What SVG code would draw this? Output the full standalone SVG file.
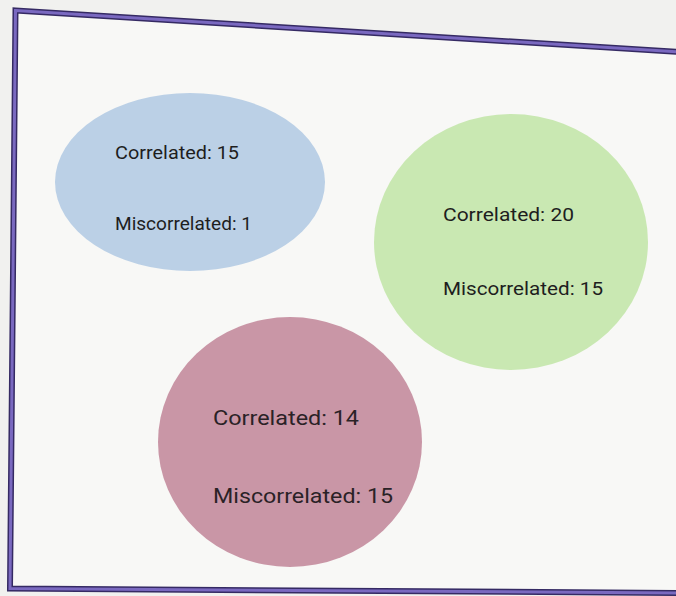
<svg xmlns="http://www.w3.org/2000/svg" width="676" height="596" viewBox="0 0 676 596">
<style>
.lbl{font-family:Roboto,"Liberation Sans",sans-serif;font-size:19px;fill:#1e1e1e}
.big{font-size:21px;fill:#2a2226}
.frame-o{fill:none;stroke:#352a63;stroke-width:6}
.frame-i{fill:none;stroke:#7a69c0;stroke-width:3}
</style>
<rect width="676" height="596" fill="#f1f1ef"/>
<g id="frame">
<path d="M15.5,10.5 L680,52 L680,593 L10,588.5 Z" fill="#f8f8f6"/>
<path class="frame-o" d="M15.5,10.5 L680,52 L680,593 L10,588.5 Z"/>
<path class="frame-i" d="M15.5,10.5 L680,52 L680,593 L10,588.5 Z"/>
</g>
<g id="blue">
<ellipse cx="190" cy="182" rx="135" ry="89" fill="#bbd0e6"/>
<text class="lbl" x="115" y="159" textLength="124" lengthAdjust="spacingAndGlyphs">Correlated: 15</text>
<text class="lbl" x="115" y="230" textLength="137" lengthAdjust="spacingAndGlyphs">Miscorrelated: 1</text>
</g>
<g id="green">
<ellipse cx="511" cy="242" rx="137" ry="128" fill="#c9e8b2"/>
<text class="lbl" x="443" y="221" textLength="131" lengthAdjust="spacingAndGlyphs">Correlated: 20</text>
<text class="lbl" x="443" y="295" textLength="160" lengthAdjust="spacingAndGlyphs">Miscorrelated: 15</text>
</g>
<g id="pink">
<ellipse cx="290" cy="442" rx="132" ry="125" fill="#c996a6"/>
<text class="lbl big" x="213" y="425" textLength="146" lengthAdjust="spacingAndGlyphs">Correlated: 14</text>
<text class="lbl big" x="213" y="503" textLength="180" lengthAdjust="spacingAndGlyphs">Miscorrelated: 15</text>
</g>
<g id="connectors"/>
</svg>
